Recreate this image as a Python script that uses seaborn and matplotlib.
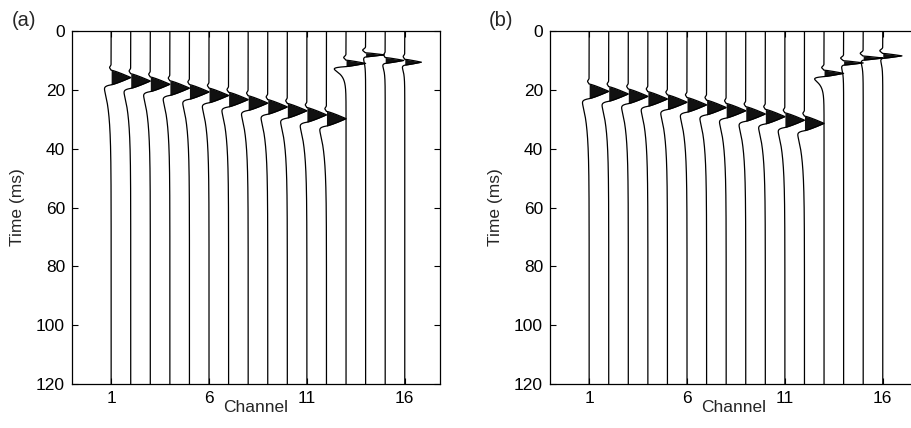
import numpy as np
import pandas as pd
import matplotlib
matplotlib.use("Agg")
import matplotlib.pyplot as plt
import seaborn as sns

# channel numbers shared by both panels
channels = [1, 2, 3, 4, 5, 6, 7, 8, 9, 10, 11, 12, 13, 14, 15, 16]

# panel (a): onset of the positive lobe (ms) and wavelet parameters per channel
onset_a = [13.3, 14.5, 15.6, 16.9, 18.2, 19.4, 20.8, 22.0, 23.3, 24.6, 26.0, 27.3, 9.9, 7.4, 9.0, 9.6]
peak_a = [1.0, 1.0, 1.0, 1.0, 1.0, 1.0, 1.0, 1.0, 1.0, 1.0, 1.0, 1.0, 1.0, 0.95, 0.95, 0.85]
width_a = [5.0, 5.0, 5.0, 5.0, 5.0, 5.0, 5.0, 5.0, 5.0, 5.0, 5.0, 5.0, 2.2, 1.4, 2.0, 2.0]
pre_a = [0.08, 0.08, 0.08, 0.08, 0.08, 0.08, 0.08, 0.08, 0.08, 0.08, 0.08, 0.08, 0.12, 0.15, 0.08, 0.08]
neg_a = [0.34, 0.34, 0.34, 0.34, 0.34, 0.34, 0.34, 0.34, 0.34, 0.34, 0.34, 0.34, 0.6, 0.1, 0.12, 0.12]
decay_a = [8, 8, 8, 8, 8, 8, 8, 8, 8, 8, 8, 8, 2.0, 2.0, 2.0, 2.0]

# panel (b)
onset_b = [18.0, 18.9, 19.7, 20.6, 21.7, 22.6, 23.5, 24.6, 25.7, 26.6, 27.8, 28.9, 13.3, 10.1, 8.5, 7.6]
peak_b = [1.0, 1.0, 1.0, 1.0, 1.0, 1.0, 1.0, 1.0, 1.0, 1.0, 1.0, 1.0, 1.0, 1.0, 1.0, 0.98]
width_b = [5.0, 5.0, 5.0, 5.0, 5.0, 5.0, 5.0, 5.0, 5.0, 5.0, 5.0, 5.0, 2.2, 1.5, 1.4, 1.7]
pre_b = [0.08, 0.08, 0.08, 0.08, 0.08, 0.08, 0.08, 0.08, 0.08, 0.08, 0.08, 0.08, 0.12, 0.15, 0.15, 0.15]
neg_b = [0.34, 0.34, 0.34, 0.34, 0.34, 0.34, 0.34, 0.34, 0.34, 0.34, 0.34, 0.34, 0.48, 0.1, 0.1, 0.1]
decay_b = [8, 8, 8, 8, 8, 8, 8, 8, 8, 8, 8, 8, 2.0, 2.0, 2.0, 2.0]

y_ticks = [0, 20, 40, 60, 80, 100, 120]
x_ticks = [1, 6, 11, 16]

t = np.arange(0, 120.01, 0.05)


def wavelet(t0, amp, width, pre, neg, decay):
    tau = t - t0
    w = np.zeros_like(t)
    # small dip just before the onset
    w -= pre * np.exp(-((tau + 0.9) / 0.6) ** 2)
    # sharp positive lobe
    pk = 0.5 * width
    up = (tau >= 0) & (tau < pk)
    dn = (tau >= pk) & (tau < width)
    w[up] += amp * (tau[up] / pk) ** 0.85
    w[dn] += amp * ((width - tau[dn]) / (width - pk)) ** 0.85
    # trailing negative lobe
    s = np.clip(tau - width, 0, None)
    g = (1 - np.exp(-s / 0.5)) * np.exp(-s / decay)
    w -= neg * g / g.max()
    return w


def build(onset, peak, width, pre, neg, decay):
    parts = []
    for ch, t0, a, wd, p, n, d in zip(channels, onset, peak, width, pre, neg, decay):
        w = wavelet(t0, a, wd, p, n, d)
        parts.append(pd.DataFrame({"channel": ch, "time": t, "w": w, "x": ch + w}))
    return pd.concat(parts, ignore_index=True)


sns.set_theme(style="ticks")
plt.rcParams["font.family"] = ["Liberation Sans", "DejaVu Sans"]
fs = 12.5

fig = plt.figure(figsize=(9.12, 4.28), dpi=100)
ax_a = fig.add_axes([72 / 912, 44 / 428, 368 / 912, 353 / 428])
ax_b = fig.add_axes([550 / 912, 44 / 428, 368 / 912, 353 / 428])

panels = [
    (ax_a, build(onset_a, peak_a, width_a, pre_a, neg_a, decay_a), "(a)", 12),
    (ax_b, build(onset_b, peak_b, width_b, pre_b, neg_b, decay_b), "(b)", 489),
]

for ax, df, tag, tx in panels:
    sns.lineplot(data=df, x="x", y="time", units="channel", estimator=None,
                 sort=False, orient="y", color="black", lw=0.9, ax=ax, legend=False)
    for ch, g in df.groupby("channel"):
        ax.fill_betweenx(g["time"], ch, g["x"], where=g["w"] > 0,
                         interpolate=True, color="#111111", lw=0)

    ax.set_xlim(-1, 17.8)
    ax.set_ylim(120, 0)
    ax.set_xticks(x_ticks)
    ax.set_yticks(y_ticks)
    ax.tick_params(direction="in", top=True, right=True, length=4, width=0.8,
                   labelsize=fs, pad=5, colors="black")
    for sp in ax.spines.values():
        sp.set_linewidth(0.9)
        sp.set_color("black")
    ax.set_xlabel("Channel", fontsize=fs)
    ax.xaxis.set_label_coords(0.5, -0.045)
    ax.set_ylabel("Time (ms)", fontsize=fs)
    ax.yaxis.set_label_coords(-0.128, 0.5)
    fig.text(tx / 912, 1 - 20 / 428, tag, fontsize=14.5, va="center", ha="left")

fig.savefig("out.png", dpi=100)
